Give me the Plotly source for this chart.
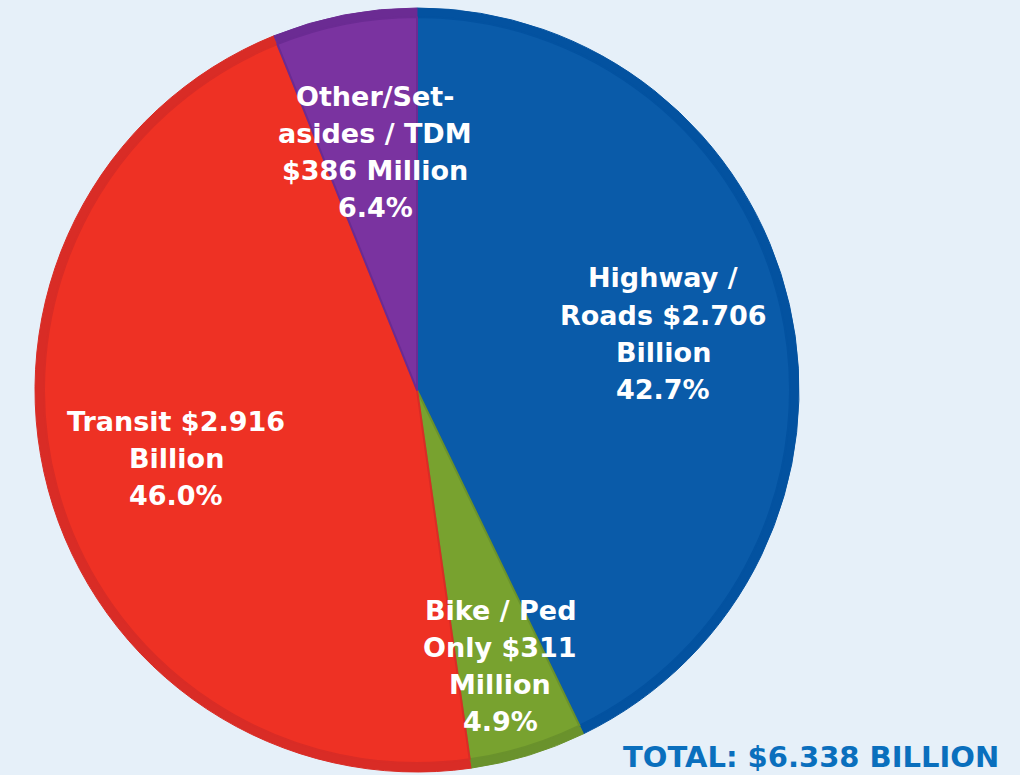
import plotly.graph_objects as go

categories = ["Highway / Roads", "Bike / Ped Only", "Transit", "Other/Set-asides / TDM"]
values_billion = [2.706, 0.311, 2.916, 0.386]
label_lines = [
    ["Highway /", "Roads $2.706", "Billion", "42.7%"],
    ["Bike / Ped", "Only $311", "Million", "4.9%"],
    ["Transit $2.916", "Billion", "46.0%"],
    ["Other/Set-", "asides / TDM", "$386 Million", "6.4%"],
]
fill_colors = ["#0A5BA9", "#78A22F", "#EE3124", "#7A33A0"]
edge_colors = ["#0352A0", "#6A922C", "#D92C26", "#6B2B93"]
total_text = "TOTAL: $6.338 BILLION"

W, H = 1020, 775
cx, cy, r = 417, 390, 382
band = 9
FONT = "DejaVu Sans, Liberation Sans, Arial, sans-serif"

def dom(rad):
    return dict(x=[(cx - rad) / W, (cx + rad) / W],
                y=[(H - cy - rad) / H, (H - cy + rad) / H])

fig = go.Figure()
fig.add_trace(go.Pie(
    labels=categories, values=values_billion, sort=False, direction="clockwise",
    rotation=0, textinfo="none", hoverinfo="skip", showlegend=False,
    marker=dict(colors=edge_colors, line=dict(color=edge_colors, width=1)),
    domain=dom(r),
))
fig.add_trace(go.Pie(
    labels=categories, values=values_billion, sort=False, direction="clockwise",
    rotation=0, textinfo="none", hoverinfo="skip", showlegend=False,
    marker=dict(colors=fill_colors, line=dict(color=edge_colors, width=2)),
    domain=dom(r - band),
))

# (center x, first-line center y) in pixels for each label block
label_pos = [(663, 278), (500, 610), (176, 421), (375, 96)]
line_gap = 37
for lines, (px, py) in zip(label_lines, label_pos):
    for i, ln in enumerate(lines):
        fig.add_annotation(
            x=px / W, y=1 - (py + i * line_gap) / H, xref="paper", yref="paper",
            text="<b>" + ln + "</b>", showarrow=False,
            xanchor="center", yanchor="middle",
            font=dict(family=FONT, size=27, color="white"),
        )

fig.add_annotation(
    x=1001 / W, y=1 - 757 / H, xref="paper", yref="paper", text="<b>" + total_text + "</b>",
    showarrow=False, xanchor="right", yanchor="middle",
    font=dict(family=FONT, size=29, color="#0A6FBD"),
)

fig.update_layout(
    width=W, height=H, margin=dict(l=0, r=0, t=0, b=0),
    paper_bgcolor="#E6F0F9", plot_bgcolor="#E6F0F9",
)

fig.write_html("out.html", config={"displayModeBar": False})
with open("out.html", "r", encoding="utf-8") as f:
    html = f.read()
html = html.replace("<head>", "<head><style>html,body{margin:0;padding:0;overflow:hidden;background:#E6F0F9;}</style>", 1)
with open("out.html", "w", encoding="utf-8") as f:
    f.write(html)
